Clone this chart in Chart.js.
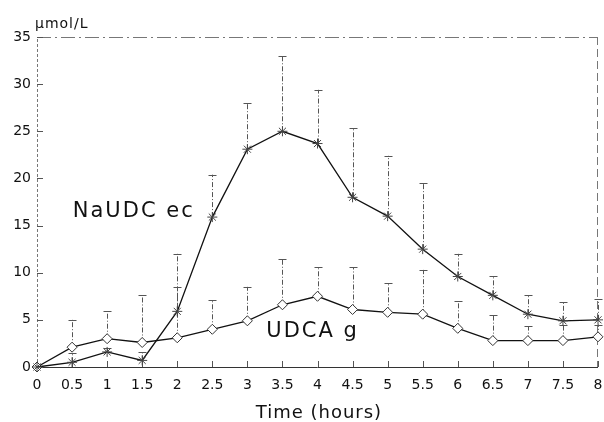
<!DOCTYPE html>
<html>
<head>
<meta charset="utf-8">
<script src="https://cdn.jsdelivr.net/npm/chart.js@4.4.1/dist/chart.umd.min.js"></script>
<style>
  body { margin: 0; background: #fff; }
</style>
</head>
<body>
<canvas id="grafico" width="604" height="422"></canvas>
<script>
// dados
const tempos = [0, 0.5, 1, 1.5, 2, 2.5, 3, 3.5, 4, 4.5, 5, 5.5, 6, 6.5, 7, 7.5, 8]
const naudc = [0, 0.5, 1.6, 0.7, 5.9, 15.9, 23.1, 25.0, 23.7, 18.0, 16.0, 12.5, 9.6, 7.6, 5.6, 4.9, 5.0]
const naudcTopo = [0, 1.5, 2.0, 1.6, 12.0, 20.4, 28.0, 33.0, 29.4, 25.4, 22.4, 19.5, 12.0, 9.6, 7.6, 6.9, 7.2]
const udca = [0, 2.1, 3.0, 2.6, 3.1, 4.0, 4.9, 6.6, 7.5, 6.1, 5.8, 5.6, 4.1, 2.8, 2.8, 2.8, 3.2]
const udcaTopo = [0, 5.0, 5.9, 7.6, 8.5, 7.1, 8.5, 11.5, 10.6, 10.6, 8.9, 10.3, 7.0, 5.5, 4.3, 4.5, 4.5]
const yTicks = [0, 5, 10, 15, 20, 25, 30, 35]

const fonte = "'DejaVu Sans', sans-serif"

function pontos(valores) {
    return tempos.map((t, i) => ({ x: t, y: valores[i] }))
}

// barras de erro (só para cima)
const barrasErro = {
    id: 'barrasErro',
    beforeDatasetsDraw(chart) {
        const c = chart.ctx
        const x = chart.scales.x
        const y = chart.scales.y
        const series = [[naudc, naudcTopo], [udca, udcaTopo]]
        c.save()
        c.strokeStyle = '#555'
        c.lineWidth = 1
        series.forEach(([vals, topos]) => {
            tempos.forEach((t, i) => {
                if (topos[i] <= vals[i]) return
                const px = Math.round(x.getPixelForValue(t)) + 0.5
                const y0 = y.getPixelForValue(vals[i])
                const y1 = y.getPixelForValue(topos[i])
                c.setLineDash([5, 2, 1, 2])
                c.beginPath()
                c.moveTo(px, y0)
                c.lineTo(px, y1)
                c.stroke()
                c.setLineDash([])
                c.beginPath()
                c.moveTo(px - 4, Math.round(y1) + 0.5)
                c.lineTo(px + 4, Math.round(y1) + 0.5)
                c.stroke()
            })
        })
        c.restore()
    }
}

// moldura, marcas internas e textos
const moldura = {
    id: 'moldura',
    beforeDatasetsDraw(chart) {
        const c = chart.ctx
        const a = chart.chartArea
        const x = chart.scales.x
        const y = chart.scales.y
        c.save()
        c.lineWidth = 1
        // esquerda pontilhada
        c.strokeStyle = '#777'
        c.setLineDash([3, 2])
        c.beginPath()
        c.moveTo(a.left + 0.5, a.bottom)
        c.lineTo(a.left + 0.5, a.top)
        c.stroke()
        // topo e direita tracejados
        c.setLineDash([14, 4, 2, 4])
        c.beginPath()
        c.moveTo(a.left, a.top + 0.5)
        c.lineTo(a.right, a.top + 0.5)
        c.stroke()
        c.setLineDash([8, 4])
        c.beginPath()
        c.moveTo(a.right - 0.5, a.top)
        c.lineTo(a.right - 0.5, a.bottom)
        c.stroke()
        // base
        c.setLineDash([])
        c.strokeStyle = '#333'
        c.beginPath()
        c.moveTo(a.left, a.bottom + 0.5)
        c.lineTo(a.right, a.bottom + 0.5)
        c.stroke()
        // marcas
        c.strokeStyle = '#555'
        yTicks.forEach(v => {
            const py = Math.round(y.getPixelForValue(v)) + 0.5
            c.beginPath()
            c.moveTo(a.left, py)
            c.lineTo(a.left + 6, py)
            c.stroke()
        })
        tempos.forEach(t => {
            const px = Math.round(x.getPixelForValue(t)) + 0.5
            c.beginPath()
            c.moveTo(px, a.bottom)
            c.lineTo(px, a.bottom - 6)
            c.stroke()
        })
        c.restore()
    },
    afterDraw(chart) {
        const c = chart.ctx
        const a = chart.chartArea
        const x = chart.scales.x
        const y = chart.scales.y
        c.save()
        c.fillStyle = '#111'
        c.textBaseline = 'alphabetic'
        c.textAlign = 'left'
        c.font = '14px ' + fonte
        c.letterSpacing = '1px'
        c.fillText('µmol/L', a.left - 2, 28)
        c.font = '21px ' + fonte
        c.letterSpacing = '2px'
        c.fillText('NaUDC ec', x.getPixelForValue(0.51), y.getPixelForValue(15.9))
        c.fillText('UDCA g', x.getPixelForValue(3.27), y.getPixelForValue(3.2))
        c.textAlign = 'center'
        c.font = '18px ' + fonte
        c.letterSpacing = '1px'
        c.fillText('Time (hours)', x.getPixelForValue(4.02), 418)
        c.restore()
    }
}

const grafico = new Chart(document.getElementById('grafico'), {
    type: 'line',
    data: {
        datasets: [{
            label: 'NaUDC ec',
            data: pontos(naudc),
            borderColor: '#111',
            borderWidth: 1.3,
            pointStyle: 'star',
            pointRadius: 5,
            pointBorderColor: '#444',
            pointBorderWidth: 1,
            tension: 0,
            clip: false
        }, {
            label: 'UDCA g',
            data: pontos(udca),
            borderColor: '#111',
            borderWidth: 1.3,
            pointStyle: 'rectRot',
            pointRadius: 5,
            pointBackgroundColor: '#fff',
            pointBorderColor: '#333',
            pointBorderWidth: 1,
            tension: 0,
            clip: false
        }]
    },
    options: {
        responsive: false,
        animation: false,
        layout: { padding: { top: 37, right: 6, left: 0, bottom: 0 } },
        plugins: {
            legend: { display: false },
            tooltip: { enabled: false }
        },
        scales: {
            x: {
                type: 'linear',
                min: 0,
                max: 8,
                grid: { display: false, drawTicks: false },
                border: { display: false },
                afterFit: s => { s.height = 55; s.paddingLeft = 0; s.paddingRight = 0 },
                ticks: {
                    stepSize: 0.5,
                    autoSkip: false,
                    maxRotation: 0,
                    padding: 10,
                    color: '#111',
                    font: { family: fonte, size: 14 },
                    callback: v => String(v)
                }
            },
            y: {
                min: 0,
                max: 35,
                grid: { display: false, drawTicks: false },
                border: { display: false },
                afterFit: s => { s.width = 37 },
                ticks: {
                    stepSize: 5,
                    padding: 6,
                    color: '#111',
                    font: { family: fonte, size: 14 }
                }
            }
        }
    },
    plugins: [moldura, barrasErro]
})
</script>
</body>
</html>
